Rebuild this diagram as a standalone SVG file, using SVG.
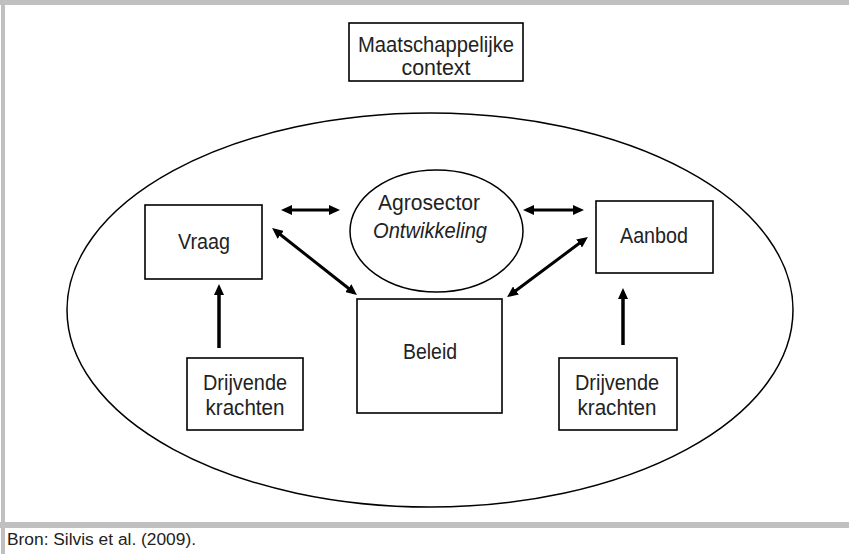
<svg xmlns="http://www.w3.org/2000/svg" width="849" height="554" viewBox="0 0 849 554">
<style>
.frame{fill:#c0c0c0}
.box{fill:#fff;stroke:#000;stroke-width:1.6}
.oval{fill:none;stroke:#000;stroke-width:1.5}
.lbl{font-family:"Liberation Sans",Arial,sans-serif;font-size:22px;fill:#222;text-anchor:middle}
.it{font-style:italic}
.src{font-family:"Liberation Sans",Arial,sans-serif;font-size:16px;fill:#222}
.conn{stroke:#000;stroke-width:3;fill:none;marker-start:url(#ah);marker-end:url(#ah)}
.up{stroke:#000;stroke-width:3.5;fill:none;marker-end:url(#ah)}
</style>
<defs>
<marker id="ah" viewBox="0 0 11 10" refX="7" refY="5" markerWidth="11" markerHeight="10" markerUnits="userSpaceOnUse" orient="auto-start-reverse">
<path d="M0,0 L11,5 L0,10 z" fill="#000"/>
</marker>
</defs>
<rect width="849" height="554" fill="#fff"/>
<g id="frame">
<rect class="frame" x="0" y="0" width="849" height="5"/>
<rect class="frame" x="1" y="0" width="4" height="554"/>
<rect class="frame" x="0" y="522" width="849" height="6"/>
</g>
<g id="context-oval"><ellipse class="oval" cx="430" cy="310" rx="363" ry="197"/></g>
<g id="maatschappelijke">
<rect class="box" x="349" y="23" width="174" height="58"/>
<text class="lbl" x="436" y="52" textLength="156" lengthAdjust="spacingAndGlyphs">Maatschappelijke</text>
<text class="lbl" x="436" y="75" textLength="69" lengthAdjust="spacingAndGlyphs">context</text>
</g>
<g id="agrosector">
<ellipse class="oval" cx="436.5" cy="231" rx="86.5" ry="61" fill="#fff"/>
<text class="lbl" x="429" y="210" textLength="102" lengthAdjust="spacingAndGlyphs">Agrosector</text>
<text class="lbl it" x="430" y="238" textLength="114" lengthAdjust="spacingAndGlyphs">Ontwikkeling</text>
</g>
<g id="vraag">
<rect class="box" x="145" y="205" width="117" height="74"/>
<text class="lbl" x="204" y="249" textLength="52" lengthAdjust="spacingAndGlyphs">Vraag</text>
</g>
<g id="aanbod">
<rect class="box" x="596" y="201" width="117" height="72"/>
<text class="lbl" x="654" y="243" textLength="68" lengthAdjust="spacingAndGlyphs">Aanbod</text>
</g>
<g id="beleid">
<rect class="box" x="357" y="299" width="145" height="114"/>
<text class="lbl" x="430" y="359" textLength="54" lengthAdjust="spacingAndGlyphs">Beleid</text>
</g>
<g id="drijvende-links">
<rect class="box" x="187" y="358" width="116" height="72"/>
<text class="lbl" x="245" y="390" textLength="84" lengthAdjust="spacingAndGlyphs">Drijvende</text>
<text class="lbl" x="245" y="415" textLength="79" lengthAdjust="spacingAndGlyphs">krachten</text>
</g>
<g id="drijvende-rechts">
<rect class="box" x="559" y="358" width="118" height="72"/>
<text class="lbl" x="617" y="390" textLength="84" lengthAdjust="spacingAndGlyphs">Drijvende</text>
<text class="lbl" x="617" y="415" textLength="79" lengthAdjust="spacingAndGlyphs">krachten</text>
</g>
<g id="connectors">
<line class="conn" x1="285" y1="210" x2="336" y2="210"/>
<line class="conn" x1="527" y1="210" x2="580" y2="210"/>
<line class="conn" x1="275.2" y1="230.5" x2="353.8" y2="292.5"/>
<line class="conn" x1="584.7" y1="239.3" x2="510.3" y2="294.7"/>
<line class="up" x1="219" y1="348" x2="219" y2="288"/>
<line class="up" x1="623" y1="345" x2="623" y2="292"/>
</g>
<text class="src" x="7" y="545" textLength="189" lengthAdjust="spacingAndGlyphs">Bron: Silvis et al. (2009).</text>
</svg>
